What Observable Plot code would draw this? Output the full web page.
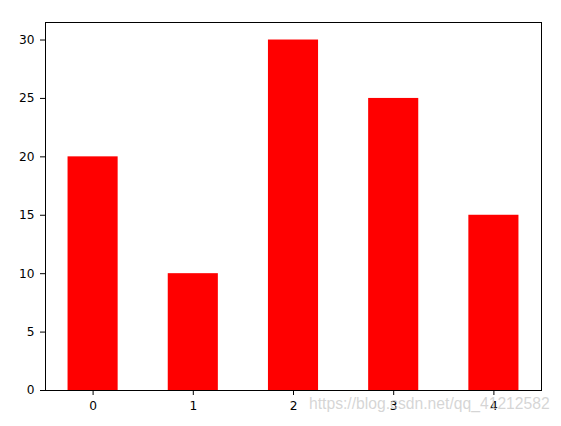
<!DOCTYPE html>
<html>
<head>
<meta charset="utf-8">
<script src="https://cdn.jsdelivr.net/npm/d3@7"></script>
<script src="https://cdn.jsdelivr.net/npm/@observablehq/plot@0.6"></script>
<style>
  html, body { margin: 0; padding: 0; background: #fff; }
  #wrap { position: relative; width: 561px; height: 426px; }
  #wrap svg text { font-size: 12.2px !important; font-family: "DejaVu Sans", sans-serif !important; fill: #000 !important; }
  #wm { position: absolute; left: 309px; top: 395px; font-family: "Liberation Sans", Arial, sans-serif;
        font-size: 15.7px; color: rgba(200,200,200,0.75); white-space: nowrap; pointer-events: none; }
</style>
</head>
<body>
<div id="wrap"><div id="wm">https://blog.csdn.net/qq_41212582</div></div>
<script>
const categories = [0, 1, 2, 3, 4];
const values = [20, 10, 30, 25, 15];
const yTicks = [0, 5, 10, 15, 20, 25, 30];
const barWidth = 0.5;

const data = categories.map((c, i) => ({cat: c, value: values[i]}));

const chart = Plot.plot({
  width: 561,
  height: 426,
  marginLeft: 45,
  marginRight: 20,
  marginTop: 22,
  marginBottom: 36,
  style: {fontFamily: "DejaVu Sans, sans-serif", fontSize: "12.2px", color: "#000", background: "#fff"},
  x: {domain: [-0.475, 4.475], label: null},
  y: {domain: [0, 31.5], label: null},
  marks: [
    Plot.rectY(data, {x1: d => d.cat - barWidth / 2, x2: d => d.cat + barWidth / 2, y1: 0, y2: "value", fill: "#ff0000", inset: 0}),
    Plot.axisX(categories, {tickSize: 5, tickPadding: 6, fontSize: 12.2, tickFormat: d => String(d), label: null, fill: "#000", stroke: "#000"}),
    Plot.axisY(yTicks, {tickSize: 5, tickPadding: 6, fontSize: 12.2, label: null, fill: "#000", stroke: "#000"}),
    Plot.frame({stroke: "#000", strokeWidth: 1})
  ]
});
document.getElementById("wrap").prepend(chart);
</script>
</body>
</html>
